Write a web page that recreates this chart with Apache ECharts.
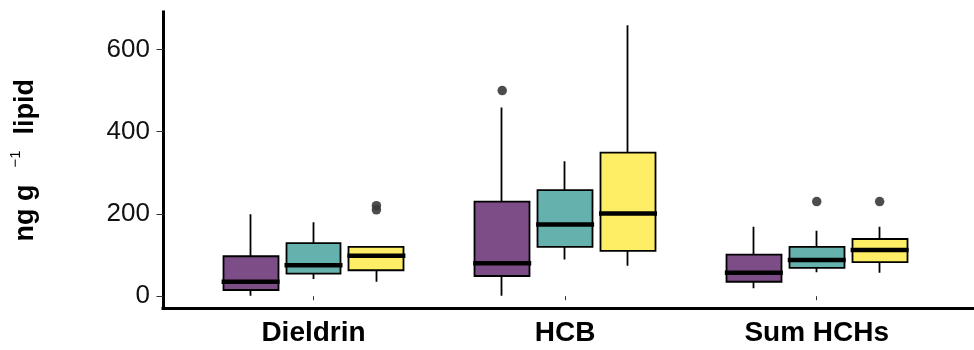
<!DOCTYPE html>
<html><head><meta charset="utf-8">
<script src="https://cdn.jsdelivr.net/npm/echarts@6/dist/echarts.min.js"></script>
<style>html,body{margin:0;padding:0;background:#fff}#c{width:974px;height:350px}</style>
</head><body><div id="c"></div>
<script>
// ---- data ----
const categories = ['Dieldrin', 'HCB', 'Sum HCHs'];
const groupColors = ['#7C4D87', '#64B1AE', '#FEEE66'];
// per group: [min, Q1, median, Q3, max] for each category
const purpleBoxes = [[1, 15, 35, 97, 199], [1, 49, 80, 230, 459], [19, 35, 57, 101, 169]];
const tealBoxes   = [[42, 55, 75, 129, 180], [89, 120, 174, 258, 328], [58, 69, 88, 120, 159]];
const yellowBoxes = [[35, 63, 98, 120, 120], [74, 110, 201, 349, 659], [57, 83, 112, 139, 169]];
// outliers: [categoryIndex, groupIndex, value]
const outliers = [[0, 2, 220], [0, 2, 210], [1, 0, 500], [2, 1, 230], [2, 2, 230]];
const yTicks = [0, 200, 400, 600];

// ---- build slot layout (3 dodged boxes per category) ----
const groups = [purpleBoxes, tealBoxes, yellowBoxes];
const slotCount = categories.length * 4 + 1;
const slotOf = (c, g) => c * 4 + 1 + g;
const slotLabels = Array.from({length: slotCount}, () => '');
categories.forEach((c, i) => { slotLabels[slotOf(i, 1)] = c; });

const candleData = Array.from({length: slotCount}, () => '-');
const medianData = [];
groups.forEach((boxes, g) => {
  boxes.forEach((b, c) => {
    candleData[slotOf(c, g)] = {
      value: [b[1], b[3], b[0], b[4]],
      itemStyle: {color: groupColors[g], color0: groupColors[g], borderColor: '#000', borderColor0: '#000'}
    };
    medianData.push([slotOf(c, g), b[2]]);
  });
});
const outlierData = outliers.map(o => [slotOf(o[0], o[1]), o[2]]);

const yMin = -30, yMax = 691;
const chart = echarts.init(document.getElementById('c'), null, {renderer: 'canvas'});
chart.setOption({
  animation: false,
  backgroundColor: '#fff',
  grid: [
    {left: 156.25, right: -7.75, top: 12, bottom: 41.5},
    {left: 162.5, right: -10, top: 12, bottom: 41.5}
  ],
  xAxis: [
    {
      gridIndex: 0, type: 'category', data: slotLabels, boundaryGap: true,
      axisLine: {show: false},
      axisTick: {show: true, alignWithLabel: true, length: 4,
        interval: (i) => slotLabels[i] !== '', lineStyle: {color: '#333', width: 1}},
      axisLabel: {interval: 0, fontFamily: 'Liberation Sans', fontSize: 28, fontWeight: 'bold', color: '#000', margin: 11},
      splitLine: {show: false}
    },
    {
      gridIndex: 1, type: 'value', min: 0, max: 1,
      axisLine: {show: true, onZero: false, lineStyle: {color: '#000', width: 3, cap: 'square'}},
      axisTick: {show: false}, axisLabel: {show: false}, splitLine: {show: false}
    }
  ],
  yAxis: [
    {gridIndex: 0, type: 'value', min: yMin, max: yMax, show: false},
    {
      gridIndex: 1, type: 'value', min: yMin, max: yMax,
      axisLine: {show: true, onZero: false, lineStyle: {color: '#000', width: 3, cap: 'square'}},
      axisTick: {show: true, length: 6.5, customValues: yTicks, lineStyle: {color: '#333', width: 1}},
      axisLabel: {customValues: yTicks, fontFamily: 'Liberation Sans', fontSize: 26, color: '#111', margin: 13},
      splitLine: {show: false},
      name: '{a|ng g}{sup|−1}{a|lipid}',
      nameLocation: 'middle', nameRotate: 90, nameGap: 119,
      nameTextStyle: {
        rich: {
          a: {fontFamily: 'Liberation Sans', fontSize: 27, fontWeight: 'bold', color: '#000', lineHeight: 36},
          sup: {fontFamily: 'Liberation Sans', fontSize: 15, color: '#000', lineHeight: 15, verticalAlign: 'top',
                padding: [0, 16, 0, 17]}
        }
      }
    }
  ],
  series: [
    {
      type: 'candlestick', xAxisIndex: 0, yAxisIndex: 0, data: candleData,
      barWidth: '88%', silent: true,
      itemStyle: {borderWidth: 1.8}
    },
    {
      type: 'scatter', xAxisIndex: 0, yAxisIndex: 0, data: medianData,
      symbol: 'rect', symbolSize: [58, 4.5], silent: true, z: 5,
      itemStyle: {color: '#000', opacity: 1}
    },
    {
      type: 'scatter', xAxisIndex: 0, yAxisIndex: 0, data: outlierData,
      symbol: 'circle', symbolSize: 9.5, silent: true, z: 6,
      itemStyle: {color: '#3a3a3a', opacity: 0.9}
    }
  ]
});
</script>
</body></html>
